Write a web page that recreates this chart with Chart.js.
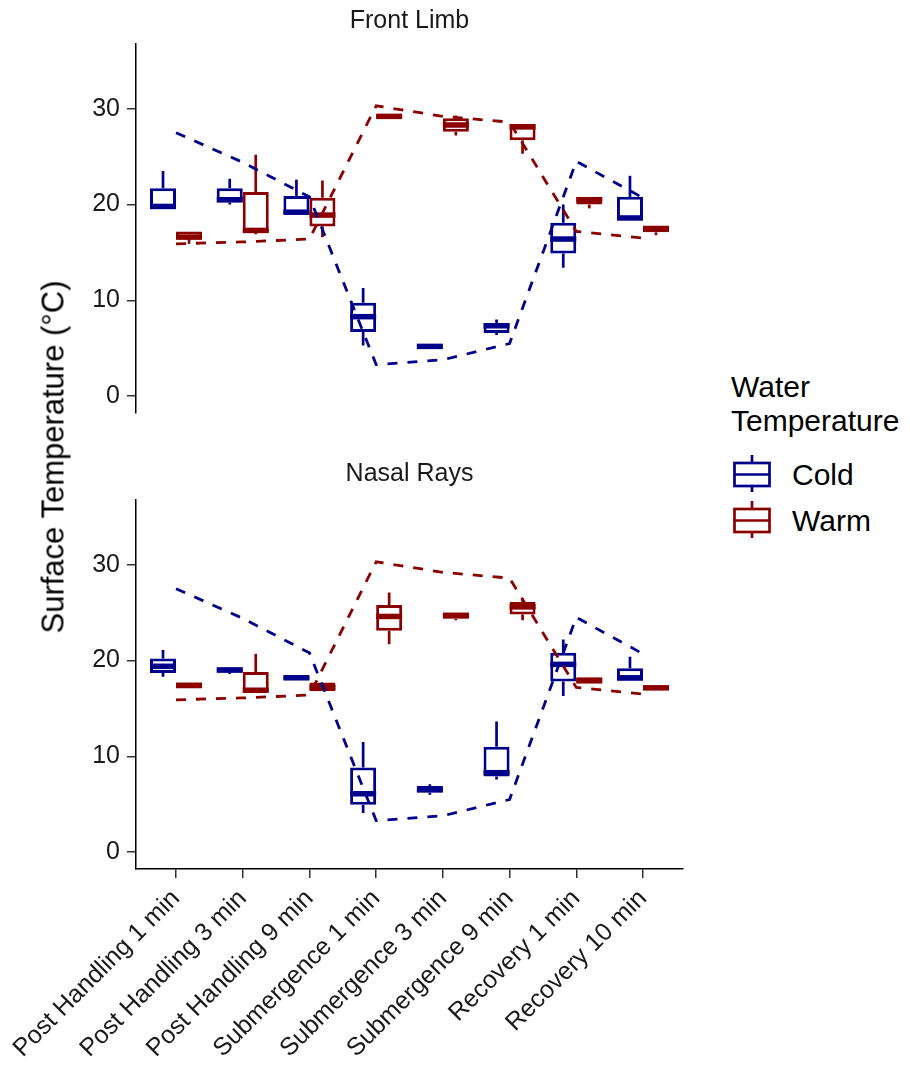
<!DOCTYPE html>
<html>
<head>
<meta charset="utf-8">
<script src="https://cdn.jsdelivr.net/npm/chart.js@4.4.1/dist/chart.umd.min.js"></script>
<style>
  body { margin: 0; background: #fff; }
  #page { position: relative; width: 910px; height: 1069px; font-family: "Liberation Sans", Arial, sans-serif; color: #000; }
  canvas { position: absolute; left: 0; }
  #ytitle { position: absolute; left: 53px; top: 457px; transform: translate(-50%, -50%) rotate(-90deg);
            font-size: 31px; line-height: 1; white-space: nowrap; }
  .legtext { position: absolute; font-size: 30px; white-space: nowrap; }
  .key { position: absolute; }
</style>
</head>
<body>
<div id="page">
  <canvas id="frontLimb" width="700" height="430" style="top:0"></canvas>
  <canvas id="nasalRays" width="700" height="619" style="top:450px"></canvas>
  <div id="ytitle">Surface Temperature (°C)</div>

  <div class="legtext" style="left:731px; top:370px; line-height:34px">Water<br>Temperature</div>
  <svg class="key" style="left:730px; top:452px" width="44" height="44">
    <g stroke="#00008B" stroke-width="2.7" fill="#fff">
      <line x1="22" y1="3" x2="22" y2="11"/><line x1="22" y1="34" x2="22" y2="40"/>
      <rect x="4.5" y="11" width="35" height="23"/><line x1="4.5" y1="22.5" x2="39.5" y2="22.5"/>
    </g>
  </svg>
  <div class="legtext" style="left:792px; top:460px; line-height:30px">Cold</div>
  <svg class="key" style="left:730px; top:498px" width="44" height="44">
    <g stroke="#8B0000" stroke-width="2.7" fill="#fff">
      <line x1="22" y1="3" x2="22" y2="11"/><line x1="22" y1="34" x2="22" y2="40"/>
      <rect x="4.5" y="11" width="35" height="23"/><line x1="4.5" y1="22.5" x2="39.5" y2="22.5"/>
    </g>
  </svg>
  <div class="legtext" style="left:792px; top:506px; line-height:30px">Warm</div>
</div>

<script>
const categories = ['Post Handling 1 min', 'Post Handling 3 min', 'Post Handling 9 min',
  'Submergence 1 min', 'Submergence 3 min', 'Submergence 9 min', 'Recovery 1 min', 'Recovery 10 min'];
const yTicks = [0, 10, 20, 30];

// box stats per category: [min, q1, median, q3, max]
const frontCold = [
  [19.6, 19.6, 19.8, 21.7, 23.5], [20.0, 20.2, 20.5, 21.7, 22.7], [19.0, 19.0, 19.2, 20.9, 22.6],
  [5.3, 6.7, 8.3, 9.75, 11.3], [5.0, 5.05, 5.2, 5.35, 5.4], [6.4, 6.6, 7.35, 7.65, 8.0],
  [13.4, 14.9, 16.4, 18.1, 20.0], [18.4, 18.4, 18.6, 20.8, 23.0]
];
const frontWarm = [
  [15.9, 16.5, 16.6, 17.2, 17.2], [16.9, 17.1, 17.3, 21.3, 25.2], [16.6, 17.7, 18.9, 20.7, 22.5],
  [29.0, 29.0, 29.2, 29.4, 29.4], [27.2, 27.6, 28.3, 29.0, 29.3], [25.3, 26.7, 28.1, 28.4, 28.4],
  [19.6, 20.0, 20.5, 20.8, 20.8], [16.8, 17.1, 17.45, 17.8, 17.8]
];
const nasalCold = [
  [18.3, 18.7, 19.4, 20.2, 21.1], [18.6, 18.8, 19.0, 19.3, 19.3], [18.0, 18.0, 18.2, 18.45, 18.45],
  [4.1, 4.95, 6.1, 8.85, 11.5], [6.0, 6.2, 6.55, 6.9, 7.1], [7.6, 7.9, 8.3, 11.0, 13.65],
  [16.3, 17.8, 19.6, 20.8, 22.2], [17.9, 17.9, 18.2, 19.2, 20.4]
];
const nasalWarm = [
  [17.1, 17.1, 17.4, 17.7, 17.7], [16.7, 16.7, 16.9, 18.8, 20.7], [16.8, 16.8, 17.2, 17.7, 17.7],
  [21.7, 23.1, 24.6, 25.8, 27.1], [24.2, 24.35, 24.7, 25.0, 25.0], [24.2, 24.8, 25.6, 26.1, 26.5],
  [17.6, 17.6, 17.9, 18.25, 18.25], [16.95, 16.95, 17.15, 17.4, 17.4]
];

// water temperature (dashed lines), same in both panels
const coldWater = [27.5, 24.4, 20.8, 3.3, 3.8, 5.5, 24.5, 20.7];
const warmWater = [15.9, 16.1, 16.4, 30.3, 29.2, 28.6, 17.2, 16.5];

const COLD = '#00008B';
const WARM = '#8B0000';

Chart.defaults.font.family = '"Liberation Sans", Arial, sans-serif';

// draws whiskers and median on top of each floating bar (the box)
const boxWhiskers = {
  id: 'boxWhiskers',
  afterDatasetDraw(chart, args) {
    const ds = chart.data.datasets[args.index];
    if (!ds.stats) return;
    const ctx = chart.ctx;
    const y = chart.scales.y;
    ctx.save();
    ctx.strokeStyle = ds.borderColor;
    args.meta.data.forEach((bar, i) => {
      const [lo, q1, med, q3, hi] = ds.stats[i];
      ctx.lineWidth = 2.7;
      ctx.beginPath();
      ctx.moveTo(bar.x, y.getPixelForValue(hi));
      ctx.lineTo(bar.x, y.getPixelForValue(q3));
      ctx.moveTo(bar.x, y.getPixelForValue(q1));
      ctx.lineTo(bar.x, y.getPixelForValue(lo));
      ctx.stroke();
      ctx.lineWidth = 5.5;
      ctx.beginPath();
      ctx.moveTo(bar.x - bar.width / 2, y.getPixelForValue(med));
      ctx.lineTo(bar.x + bar.width / 2, y.getPixelForValue(med));
      ctx.stroke();
    });
    ctx.restore();
  }
};

function boxDataset(label, stats, color) {
  return {
    type: 'bar', label, stats,
    data: stats.map((s, i) => ({ x: i, y: [s[1], s[3]] })),
    backgroundColor: '#fff', borderColor: color, borderWidth: 3, borderSkipped: false,
    categoryPercentage: 0.78, barPercentage: 1, order: 2
  };
}

function waterDataset(label, values, color) {
  return {
    type: 'line', label,
    data: values.map((v, i) => ({ x: i, y: v })),
    borderColor: color, borderWidth: 2.8, borderDash: [10, 10],
    pointRadius: 0, fill: false, tension: 0, order: 1
  };
}

function makeChart(id, title, cold, warm, showX, titlePad) {
  return new Chart(document.getElementById(id), {
    type: 'bar',
    data: {
      datasets: [
        boxDataset('Cold', cold, COLD),
        boxDataset('Warm', warm, WARM),
        waterDataset('Cold water', coldWater, COLD),
        waterDataset('Warm water', warmWater, WARM)
      ]
    },
    plugins: [boxWhiskers],
    options: {
      responsive: false,
      animation: false,
      layout: { padding: { left: 0, right: 17, top: 0, bottom: showX ? 0 : 17 } },
      plugins: {
        legend: { display: false },
        tooltip: { enabled: false },
        title: {
          display: true, text: title, fullSize: false, color: '#1a1a1a',
          font: { size: 25, weight: 'normal', lineHeight: 1.2 },
          padding: titlePad
        }
      },
      scales: {
        x: {
          type: 'linear', min: -0.6, max: 7.6, offset: false,
          display: showX,
          afterBuildTicks: (s) => { s.ticks = categories.map((c, i) => ({ value: i })); },
          afterFit: (s) => {
            s.height = showX ? 200 : 0;
            s.paddingLeft = 0; s.paddingRight = 0;
          },
          border: { display: true, color: '#000', width: 1.5 },
          grid: { display: true, offset: false, drawOnChartArea: false, drawTicks: true, tickLength: 9, color: '#333', lineWidth: 1.5 },
          ticks: {
            autoSkip: false, minRotation: 45, maxRotation: 45, padding: 6,
            color: '#1a1a1a', font: { size: 25 },
            callback: (v) => categories[v]
          }
        },
        y: {
          min: -1.75, max: 36.75,
          afterBuildTicks: (s) => { s.ticks = yTicks.map((v) => ({ value: v })); },
          afterFit: (s) => { s.width = 136; s.paddingTop = 0; s.paddingBottom = 0; },
          border: { display: true, color: '#000', width: 1.5 },
          grid: { display: true, drawOnChartArea: false, drawTicks: true, tickLength: 9, color: '#333', lineWidth: 1.5 },
          ticks: { padding: 7, color: '#1a1a1a', font: { size: 25 } }
        }
      }
    }
  });
}

makeChart('frontLimb', 'Front Limb', frontCold, frontWarm, false, { top: 6, bottom: 8 });
makeChart('nasalRays', 'Nasal Rays', nasalCold, nasalWarm, true, { top: 9.5, bottom: 10.5 });
</script>
</body>
</html>
